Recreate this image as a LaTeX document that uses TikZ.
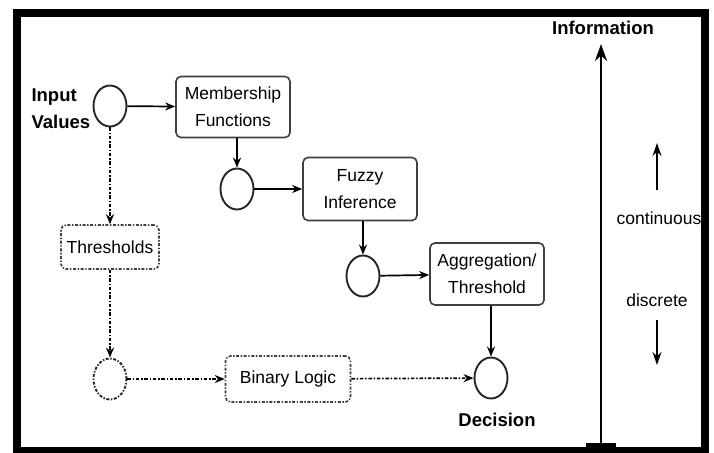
\documentclass[tikz,border=0pt]{standalone}
\usepackage{fontspec}
\setmainfont{Liberation Sans}
\usetikzlibrary{arrows.meta,shapes.geometric}

\begin{document}
\begin{tikzpicture}[x=1pt,y=-1pt,
  txt/.style={font=\fontsize{17.5}{27}\selectfont,align=center},
  bold/.style={font=\fontsize{18.5}{27}\selectfont\bfseries,align=center},
  box/.style={txt,draw=black!75,line width=1.6pt,rounded corners=5pt,inner sep=2pt},
  dotbox/.style={box,dash pattern=on 3pt off 1.6pt on 1.4pt off 1.6pt},
  circ/.style={ellipse,draw=black!85,line width=1.9pt,minimum width=33pt,minimum height=41pt,inner sep=0pt},
  dotcirc/.style={circ,dash pattern=on 3pt off 1.6pt on 1.4pt off 1.6pt},
  flow/.style={line width=1.7pt,-{Stealth[length=10pt,width=8pt]}},
  dotflow/.style={flow,dash pattern=on 3.5pt off 1.8pt on 1.4pt off 1.8pt}]
\useasboundingbox (0,0) rectangle (714,452);
\fill[white] (0,0) rectangle (714,452);
% fuzzy path
\node [circ] (in) at (110,106) {};
\node [box, minimum width=114pt, minimum height=61pt] (memb) at (233,107) {Membership\\Functions};
\node [circ] (c2) at (237,189) {};
\node [box, minimum width=114pt, minimum height=63pt] (fuzzy) at (360,189) {Fuzzy\\Inference};
\node [circ] (c3) at (363,276) {};
\node [box, minimum width=114pt, minimum height=62pt] (agg) at (487,274) {Aggregation/\\Threshold};
\node [circ] (dec) at (491,378) {};
% binary path
\node [dotbox, minimum width=98pt, minimum height=44pt] (thr) at (110,247) {Thresholds};
\node [dotcirc] (c4) at (110,379) {};
\node [dotbox, minimum width=125pt, minimum height=46pt] (bin) at (288,379) {Binary Logic};
% labels
\node [bold, align=left, anchor=west] (inlabel) at (28,109) {Input\\Values};
\node [bold] (declabel) at (497,420) {Decision};
\node [bold] (infolabel) at (603,28) {Information};
\node [txt] (cont) at (659,218) {continuous};
\node [txt] (disc) at (657,300) {discrete};
% connectors
\draw [flow] (in) -- (memb);
\draw [flow] (c2 |- memb.south) -- (c2);
\draw [flow] (c2) -- (fuzzy);
\draw [flow] (c3 |- fuzzy.south) -- (c3);
\draw [flow] (c3) -- (agg);
\draw [flow] (dec |- agg.south) -- (dec);
\draw [dotflow] (in) -- (thr);
\draw [dotflow] (thr) -- (c4);
\draw [dotflow] (c4) -- (bin);
\draw [dotflow] (bin) -- (dec);
% information axis
\coordinate (infobot) at (601,447);
\coordinate (infotop) at (601,44);
\draw [line width=2.6pt, -{Stealth[length=17pt,width=12pt]}] (infobot) -- (infotop);
\fill (586,443) rectangle (616,452);
\draw [flow, -{Stealth[length=13pt,width=9pt]}] (cont.north -| 657,0) ++(0,-18) coordinate (cup) -- ++(0,-47);
\draw [flow, -{Stealth[length=13pt,width=9pt]}] (disc.south) ++(0,10) coordinate (cdn) -- ++(0,45);
% frame
\draw [line width=8pt] (17,13.5) rectangle (705,451);
\end{tikzpicture}
\end{document}
